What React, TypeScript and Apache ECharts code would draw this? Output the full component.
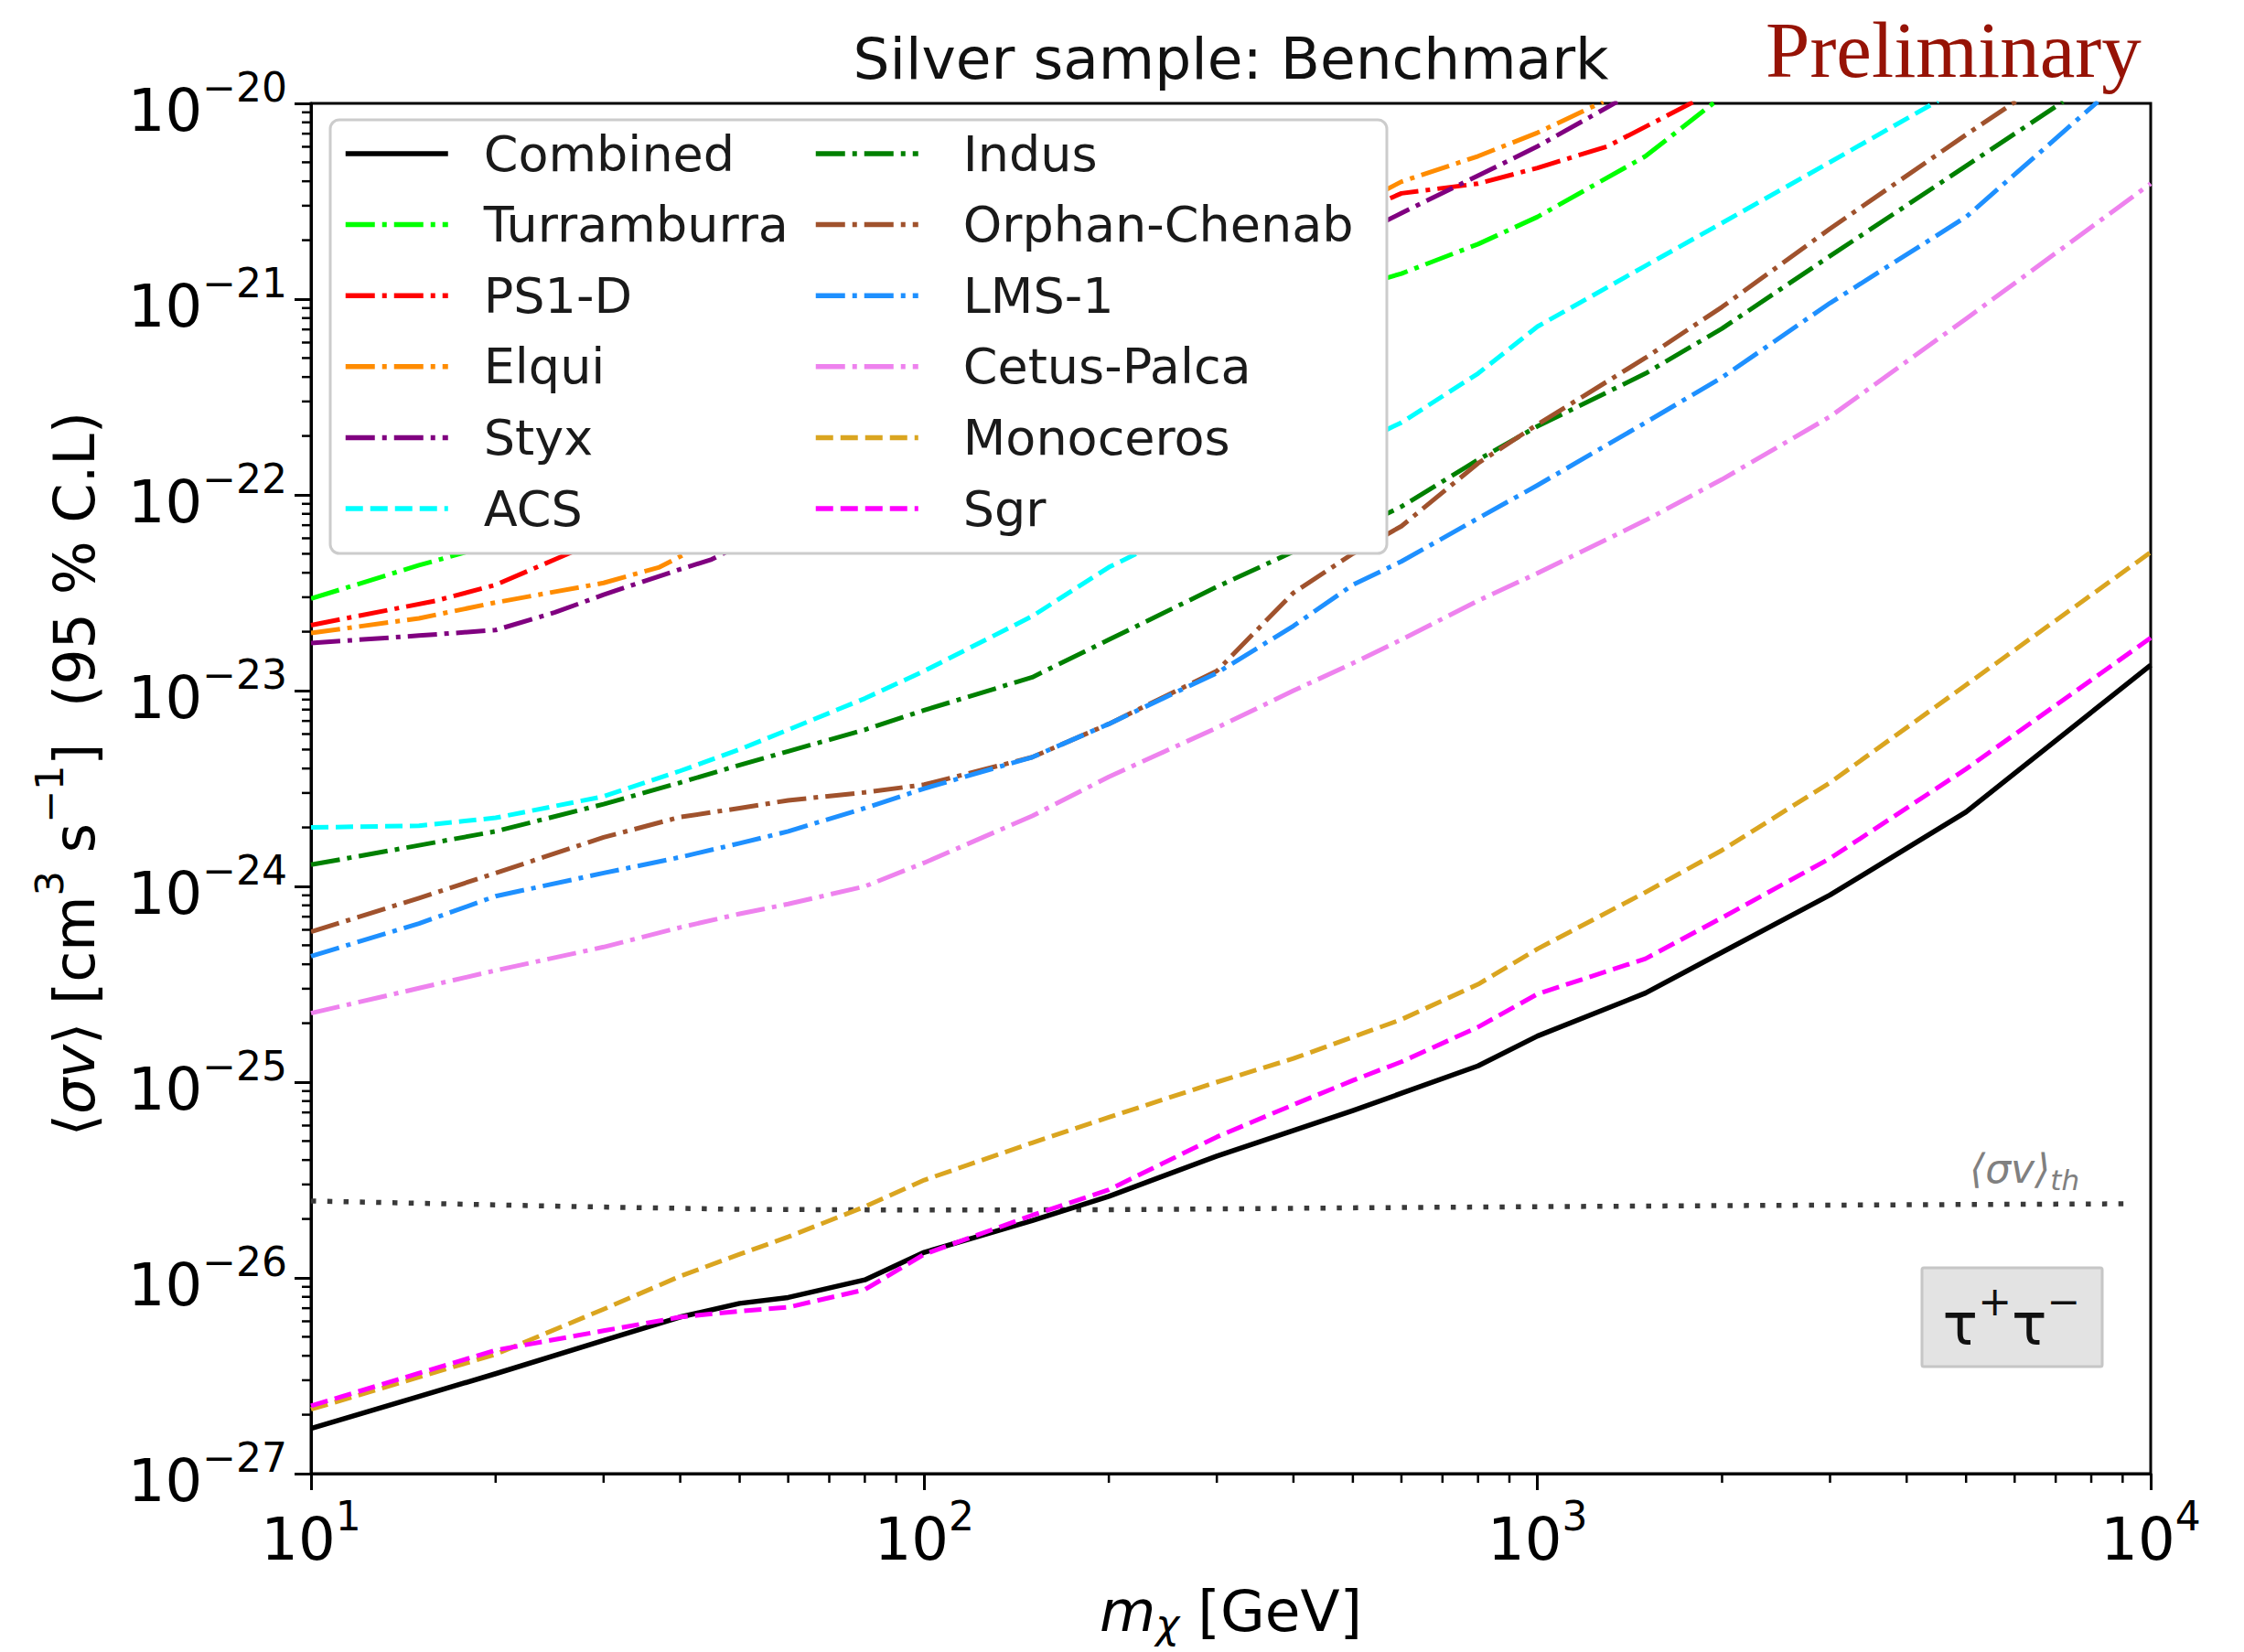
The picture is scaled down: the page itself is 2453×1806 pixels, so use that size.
import { useEffect, useRef } from "react";
import * as echarts from "echarts";

type Pt = [number, number];

const FIG_W = 2453;
const FIG_H = 1806;
const SANS = "DejaVu Sans";
const SERIF = "Liberation Serif";

// Axis ranges: dark-matter mass (GeV) and <σv> (cm^3 s^-1), both log10
const MASS_MIN = 10;
const MASS_MAX = 1e4;
const SIGV_MIN = 1e-27;
const SIGV_MAX = 1e-20;
// the cross sections are handed to the log axis in units of 1e-27 cm^3/s
const Y_UNIT = 1e-27;
const Y_UNIT_EXP = -27;

const X_DECADES = [10, 100, 1000];
const Y_DECADES = [1e-27, 1e-26, 1e-25, 1e-24, 1e-23, 1e-22, 1e-21];
const MINOR_STEPS = [2, 3, 4, 5, 6, 7, 8, 9];

// 95% C.L. upper limits, tau+ tau- channel
const COMBINED: Pt[] = [
  [10, 1.70e-27], [20, 3.24e-27], [30, 4.79e-27], [40, 6.31e-27], [50, 7.41e-27],
  [60, 7.94e-27], [80, 9.77e-27], [100, 1.35e-26], [150, 1.96e-26], [200, 2.61e-26],
  [300, 4.19e-26], [400, 5.66e-26], [500, 7.16e-26], [600, 8.77e-26], [800, 1.21e-25],
  [1000, 1.72e-25], [1500, 2.85e-25], [2000, 4.61e-25], [3000, 9.04e-25],
  [5000, 2.40e-24], [10000, 1.35e-23],
];
const TURRAMBURRA: Pt[] = [
  [10, 2.95e-23], [15, 4.37e-23], [20, 5.62e-23], [600, 1.35e-21], [800, 1.91e-21],
  [1000, 2.63e-21], [1500, 5.37e-21], [1950, 1.02e-20],
];
const PS1_D: Pt[] = [
  [10, 2.16e-23], [16, 2.88e-23], [20, 3.47e-23], [25, 4.68e-23], [600, 3.47e-21],
  [800, 3.89e-21], [1000, 4.68e-21], [1300, 6.03e-21], [1800, 1.02e-20],
];
const ELQUI: Pt[] = [
  [10, 1.97e-23], [15, 2.34e-23], [20, 2.82e-23], [30, 3.55e-23], [37, 4.27e-23],
  [600, 3.98e-21], [800, 5.37e-21], [1000, 7.08e-21], [1280, 1.02e-20],
];
const STYX: Pt[] = [
  [10, 1.75e-23], [15, 1.91e-23], [20, 2.04e-23], [25, 2.51e-23], [30, 3.09e-23],
  [40, 4.17e-23], [45, 4.68e-23], [600, 2.75e-21], [800, 4.27e-21], [1000, 6.03e-21],
  [1350, 1.02e-20],
];
const ACS: Pt[] = [
  [10, 2.00e-24], [15, 2.04e-24], [20, 2.24e-24], [30, 2.88e-24], [40, 3.89e-24],
  [50, 5.01e-24], [60, 6.31e-24], [80, 9.12e-24], [100, 1.26e-23], [150, 2.40e-23],
  [200, 4.27e-23], [300, 7.94e-23], [400, 1.23e-22], [500, 1.78e-22], [600, 2.34e-22],
  [800, 4.17e-22], [1000, 7.24e-22], [1500, 1.48e-21], [2000, 2.45e-21],
  [3000, 5.01e-21], [4500, 1.03e-20],
];
const INDUS: Pt[] = [
  [10, 1.29e-24], [15, 1.62e-24], [20, 1.91e-24], [30, 2.63e-24], [40, 3.39e-24],
  [50, 4.17e-24], [60, 4.90e-24], [80, 6.31e-24], [100, 7.94e-24], [150, 1.17e-23],
  [200, 1.82e-23], [300, 3.39e-23], [400, 5.13e-23], [500, 6.61e-23], [600, 8.71e-23],
  [800, 1.51e-22], [1000, 2.24e-22], [1500, 4.17e-22], [2000, 7.08e-22],
  [3000, 1.66e-21], [5000, 4.79e-21], [7200, 1.02e-20],
];
const ORPHAN_CHENAB: Pt[] = [
  [10, 5.86e-25], [15, 8.71e-25], [20, 1.17e-24], [30, 1.78e-24], [40, 2.26e-24],
  [50, 2.51e-24], [60, 2.75e-24], [80, 3.02e-24], [100, 3.31e-24], [150, 4.57e-24],
  [200, 6.76e-24], [300, 1.26e-23], [400, 3.16e-23], [500, 5.01e-23], [600, 6.92e-23],
  [800, 1.45e-22], [1000, 2.29e-22], [1500, 5.01e-22], [2000, 9.12e-22],
  [3000, 2.29e-21], [5000, 6.92e-21], [6100, 1.05e-20],
];
const LMS_1: Pt[] = [
  [10, 4.40e-25], [15, 6.46e-25], [20, 8.91e-25], [30, 1.17e-24], [40, 1.41e-24],
  [50, 1.66e-24], [60, 1.91e-24], [80, 2.51e-24], [100, 3.16e-24], [150, 4.57e-24],
  [200, 6.76e-24], [300, 1.23e-23], [400, 2.14e-23], [500, 3.47e-23], [600, 4.57e-23],
  [800, 7.59e-23], [1000, 1.12e-22], [1500, 2.34e-22], [2000, 3.98e-22],
  [3000, 9.55e-22], [5000, 2.63e-21], [8200, 1.02e-20],
];
const CETUS_PALCA: Pt[] = [
  [10, 2.25e-25], [15, 3.02e-25], [20, 3.72e-25], [30, 4.90e-25], [40, 6.17e-25],
  [50, 7.24e-25], [60, 8.13e-25], [80, 1.00e-24], [100, 1.32e-24], [150, 2.29e-24],
  [200, 3.63e-24], [300, 6.46e-24], [400, 1.00e-23], [500, 1.38e-23], [600, 1.82e-23],
  [800, 2.88e-23], [1000, 3.98e-23], [1500, 7.41e-23], [2000, 1.20e-22],
  [3000, 2.51e-22], [5000, 7.94e-22], [10000, 3.89e-21],
];
const MONOCEROS: Pt[] = [
  [10, 2.13e-27], [20, 4.07e-27], [30, 6.92e-27], [40, 1.02e-26], [50, 1.32e-26],
  [60, 1.62e-26], [80, 2.31e-26], [100, 3.16e-26], [150, 4.90e-26], [200, 6.61e-26],
  [300, 1.00e-25], [400, 1.32e-25], [500, 1.70e-25], [600, 2.09e-25], [800, 3.16e-25],
  [1000, 4.79e-25], [1500, 9.33e-25], [2000, 1.53e-24], [3000, 3.39e-24],
  [5000, 1.07e-23], [10000, 5.09e-23],
];
const SGR: Pt[] = [
  [10, 2.22e-27], [15, 3.26e-27], [20, 4.27e-27], [30, 5.37e-27], [40, 6.31e-27],
  [50, 6.76e-27], [60, 7.08e-27], [80, 8.71e-27], [100, 1.32e-26], [150, 2.09e-26],
  [200, 2.82e-26], [300, 5.25e-26], [400, 7.67e-26], [500, 1.02e-25], [600, 1.27e-25],
  [800, 1.91e-25], [1000, 2.82e-25], [1500, 4.27e-25], [2000, 6.92e-25],
  [3000, 1.39e-24], [5000, 3.98e-24], [10000, 1.86e-23],
];
// thermal relic cross section
const THERMAL: Pt[] = [
  [10, 2.47e-26], [20, 2.36e-26], [30, 2.30e-26], [50, 2.24e-26], [100, 2.22e-26],
  [200, 2.23e-26], [300, 2.25e-26], [500, 2.28e-26], [1000, 2.31e-26],
  [2000, 2.34e-26], [5000, 2.37e-26], [9100, 2.39e-26],
];

const LEGEND_LEFT = ["Combined", "Turramburra", "PS1-D", "Elqui", "Styx", "ACS"];
const LEGEND_RIGHT = ["Indus", "Orphan-Chenab", "LMS-1", "Cetus-Palca", "Monoceros", "Sgr"];

const DASHED = [19, 8];
const DASHDOT = [32, 8, 5, 8];
const DOTTED = [5.5, 12.3];

const CURVES: { name: string; data: Pt[]; color: string; dash: any; width: number }[] = [
  { name: "Combined", data: COMBINED, color: "#000000", dash: "solid", width: 5.5 },
  { name: "Turramburra", data: TURRAMBURRA, color: "#00ff00", dash: DASHDOT, width: 5 },
  { name: "PS1-D", data: PS1_D, color: "#ff0000", dash: DASHDOT, width: 5 },
  { name: "Elqui", data: ELQUI, color: "#ff8c00", dash: DASHDOT, width: 5 },
  { name: "Styx", data: STYX, color: "#800080", dash: DASHDOT, width: 5 },
  { name: "ACS", data: ACS, color: "#00ffff", dash: DASHED, width: 5 },
  { name: "Indus", data: INDUS, color: "#008000", dash: DASHDOT, width: 5 },
  { name: "Orphan-Chenab", data: ORPHAN_CHENAB, color: "#a0522d", dash: DASHDOT, width: 5 },
  { name: "LMS-1", data: LMS_1, color: "#1e90ff", dash: DASHDOT, width: 5 },
  { name: "Cetus-Palca", data: CETUS_PALCA, color: "#ee82ee", dash: DASHDOT, width: 5 },
  { name: "Monoceros", data: MONOCEROS, color: "#daa520", dash: DASHED, width: 5 },
  { name: "Sgr", data: SGR, color: "#ff00ff", dash: DASHED, width: 5 },
];

const toAxis = (pts: Pt[]) => pts.map(([m, s]) => [m, s / Y_UNIT]);

// "10" with a raised exponent
const powerRich = {
  b: { fontFamily: SANS, fontSize: 64, lineHeight: 80, verticalAlign: "bottom", color: "#000" },
  s: { fontFamily: SANS, fontSize: 44, lineHeight: 44, verticalAlign: "top", color: "#000" },
};
const powerLabel = (exp: number) => `{b|10}{s|${exp < 0 ? "\u2212" : ""}${Math.abs(exp)}}`;

function buildOption() {
  const legendBase = {
    orient: "vertical",
    padding: 0,
    itemWidth: 112,
    itemHeight: 30,
    itemGap: 17.6,
    selectedMode: false,
    z: 7,
    itemStyle: { opacity: 0 },
    lineStyle: { width: 5.5 },
  };
  const legendText = (padLeft: number) => ({
    fontFamily: SANS,
    fontSize: 54,
    color: "#1a1a1a",
    lineHeight: 60,
    padding: [0, 0, 0, padLeft],
  });

  return {
    animation: false,
    backgroundColor: "#ffffff",
    textStyle: { fontFamily: SANS },
    grid: {
      left: 340,
      top: 113,
      width: 2011,
      height: 1498,
      show: true,
      borderColor: "#000",
      borderWidth: 3,
      containLabel: false,
      outerBoundsMode: "none",
    },
    legend: [
      { ...legendBase, data: LEGEND_LEFT, left: 375, top: 138, textStyle: legendText(34) },
      { ...legendBase, data: LEGEND_RIGHT, left: 889, top: 138, textStyle: legendText(44) },
    ],
    xAxis: {
      type: "log",
      logBase: 10,
      min: MASS_MIN,
      max: MASS_MAX,
      axisLine: { show: true, lineStyle: { color: "#000", width: 3 } },
      axisTick: { show: true, length: 18, lineStyle: { color: "#000", width: 3 } },
      splitLine: { show: false },
      axisLabel: {
        margin: 24,
        formatter: (v: number) => powerLabel(Math.round(Math.log10(v))),
        rich: powerRich,
      },
      name: "{i|m}{c|\u03c7}{n| [GeV]}",
      nameLocation: "middle",
      nameGap: 115,
      nameTextStyle: {
        rich: {
          i: { fontFamily: SANS, fontStyle: "italic", fontSize: 63, lineHeight: 71, color: "#000" },
          c: { fontFamily: SANS, fontStyle: "italic", fontSize: 44, lineHeight: 44, verticalAlign: "bottom", color: "#000" },
          n: { fontFamily: SANS, fontSize: 63, lineHeight: 71, color: "#000" },
        },
      },
    },
    yAxis: {
      type: "log",
      logBase: 10,
      min: SIGV_MIN / Y_UNIT,
      max: SIGV_MAX / Y_UNIT,
      axisLine: { show: true, lineStyle: { color: "#000", width: 3 } },
      axisTick: { show: true, length: 18, lineStyle: { color: "#000", width: 3 } },
      splitLine: { show: false },
      axisLabel: {
        margin: 26,
        formatter: (v: number) => powerLabel(Math.round(Math.log10(v)) + Y_UNIT_EXP),
        rich: powerRich,
      },
      name: "{n|\u27e8}{g|\u03c3v}{n|\u27e9 [cm}{p|3}{n| s}{p|\u22121}{n|]  (95 % C.L)}",
      nameLocation: "middle",
      nameRotate: 90,
      nameGap: 228,
      nameTextStyle: {
        padding: [0, 0, 0, 32],
        rich: {
          n: { fontFamily: SANS, fontSize: 62, lineHeight: 80, verticalAlign: "bottom", color: "#000" },
          g: { fontFamily: SANS, fontStyle: "italic", fontSize: 62, lineHeight: 80, verticalAlign: "bottom", color: "#000" },
          p: { fontFamily: SANS, fontSize: 43, lineHeight: 44, verticalAlign: "top", color: "#000" },
        },
      },
    },
    series: [
      ...CURVES.map((c) => ({
        type: "line",
        name: c.name,
        data: toAxis(c.data),
        symbol: "none",
        showSymbol: false,
        smooth: false,
        silent: true,
        clip: true,
        z: 3,
        lineStyle: { color: c.color, width: c.width, type: c.dash, cap: "butt", join: "round" },
        itemStyle: { color: c.color },
        emphasis: { disabled: true },
      })),
      {
        type: "line",
        name: "thermal",
        data: toAxis(THERMAL),
        symbol: "none",
        showSymbol: false,
        silent: true,
        lineStyle: { color: "#3a3a3a", width: 5.5, type: DOTTED },
        emphasis: { disabled: true },
        z: 2,
      },
    ],
  };
}

function buildGraphics(chart: any) {
  const px = (m: number) => chart.convertToPixel({ xAxisIndex: 0 }, m) as number;
  const py = (s: number) => chart.convertToPixel({ yAxisIndex: 0 }, s / Y_UNIT) as number;
  const xAxisY = py(SIGV_MIN);
  const yAxisX = px(MASS_MIN);
  const els: any[] = [];

  // minor ticks of both log axes
  for (const d of X_DECADES) {
    for (const k of MINOR_STEPS) {
      const x = px(k * d);
      els.push({
        type: "line", silent: true, z: 4,
        shape: { x1: x, y1: xAxisY, x2: x, y2: xAxisY + 10 },
        style: { stroke: "#000", lineWidth: 2.5 },
      });
    }
  }
  for (const d of Y_DECADES) {
    for (const k of MINOR_STEPS) {
      const y = py(k * d);
      els.push({
        type: "line", silent: true, z: 4,
        shape: { x1: yAxisX - 10, y1: y, x2: yAxisX, y2: y },
        style: { stroke: "#000", lineWidth: 2.5 },
      });
    }
  }

  // legend frame (above the curves, below the legend entries)
  els.push({
    type: "rect", silent: true, z: 5,
    shape: { x: 361, y: 131, width: 1155, height: 474, r: 10 },
    style: { fill: "#ffffff", stroke: "#cccccc", lineWidth: 3 },
  });

  // channel tag
  els.push({
    type: "rect", silent: true, z: 5,
    shape: { x: 2101, y: 1386, width: 197, height: 108, r: 2 },
    style: { fill: "#e3e3e3", stroke: "#c6c6c6", lineWidth: 3 },
  });
  els.push({
    type: "text", silent: true, z: 6,
    style: {
      x: 2199, y: 1440, align: "center", verticalAlign: "middle",
      text: "{a|\u03c4}{s|+}{a|\u03c4}{s|\u2212}",
      rich: {
        a: { fontFamily: SANS, fontSize: 64, lineHeight: 80, verticalAlign: "bottom", fill: "#111" },
        s: { fontFamily: SANS, fontSize: 44, lineHeight: 44, verticalAlign: "top", fill: "#111" },
      },
    },
  });

  // thermal relic label
  els.push({
    type: "text", silent: true, z: 6,
    style: {
      x: 2153, y: 1277, align: "left", verticalAlign: "middle",
      text: "{a|\u27e8\u03c3v\u27e9}{s|th}",
      rich: {
        a: { fontFamily: SANS, fontStyle: "italic", fontSize: 44, lineHeight: 56, fill: "#808080" },
        s: { fontFamily: SANS, fontStyle: "italic", fontSize: 31, lineHeight: 31, verticalAlign: "bottom", fill: "#808080" },
      },
    },
  });

  // title and stamp
  els.push({
    type: "text", silent: true, z: 6,
    style: {
      x: (px(MASS_MIN) + px(MASS_MAX)) / 2, y: 64, align: "center", verticalAlign: "middle",
      text: "Silver sample: Benchmark",
      fontFamily: SANS, fontSize: 63, fill: "#111",
    },
  });
  els.push({
    type: "text", silent: true, z: 6,
    style: {
      x: 1930, y: 54, align: "left", verticalAlign: "middle",
      text: "Preliminary",
      fontFamily: SERIF, fontSize: 87, fill: "#961306",
    },
  });
  return els;
}

export default function App() {
  const ref = useRef<HTMLDivElement>(null);
  useEffect(() => {
    document.body.style.margin = "0";
    const el = ref.current;
    if (!el) return;
    const chart = echarts.init(el, undefined, { renderer: "svg", width: FIG_W, height: FIG_H });
    chart.setOption(buildOption() as any);
    chart.setOption({ graphic: { elements: buildGraphics(chart) } } as any);
    return () => chart.dispose();
  }, []);
  return <div ref={ref} style={{ width: FIG_W, height: FIG_H, background: "#fff" }} />;
}
